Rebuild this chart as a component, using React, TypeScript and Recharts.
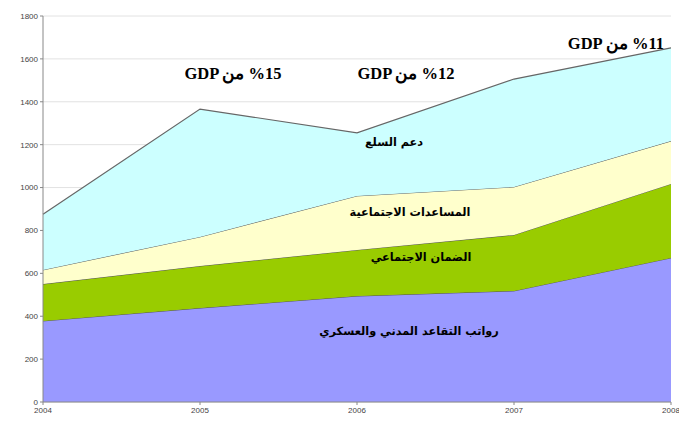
import React from "react";
import { AreaChart, Area, XAxis, YAxis, CartesianGrid, ReferenceDot } from "recharts";

const years = ["2004", "2005", "2006", "2007", "2008"];
const pensions = [378, 438, 494, 518, 672];
const socialSecurity = [172, 196, 215, 261, 345];
const socialAid = [66, 136, 252, 224, 200];
const subsidies = [259, 596, 294, 503, 434];
const yTicks = [0, 200, 400, 600, 800, 1000, 1200, 1400, 1600, 1800];

const seriesNames = {
  pensions: "رواتب التقاعد المدني والعسكري",
  socialSecurity: "الضمان الاجتماعي",
  socialAid: "المساعدات الاجتماعية",
  subsidies: "دعم السلع",
};

const data = years.map((y, i) => ({
  year: y,
  pensions: pensions[i],
  socialSecurity: socialSecurity[i],
  socialAid: socialAid[i],
  subsidies: subsidies[i],
}));

const LRM = "\u200E";
const gdpNotes = [
  { year: "2005", value: 1534, dx: 33, text: "GDP من " + LRM + "%15" },
  { year: "2006", value: 1534, dx: 49, text: "GDP من " + LRM + "%12" },
  { year: "2008", value: 1670, dx: -55, text: "GDP من " + LRM + "%11" },
];

const areaLabels = [
  { year: "2006", value: 1208, dx: 37, text: seriesNames.subsidies },
  { year: "2006", value: 886, dx: 53, text: seriesNames.socialAid },
  { year: "2006", value: 672, dx: 64, text: seriesNames.socialSecurity },
  { year: "2006", value: 331, dx: 52, text: seriesNames.pensions },
];

const makeLabel = (text: string, dx: number, font: string, size: number) => (p: any) => {
  const vb = p.viewBox || {};
  const cx = (vb.x ?? 0) + (vb.width ?? 0) / 2 + dx;
  const cy = (vb.y ?? 0) + (vb.height ?? 0) / 2;
  return (
    <text
      x={cx}
      y={cy}
      textAnchor="middle"
      dominantBaseline="central"
      fontFamily={font}
      fontWeight="bold"
      fontSize={size}
      fill="#000"
    >
      {text}
    </text>
  );
};

export default function App() {
  return (
    <div style={{ position: "absolute", left: 0, top: 0, width: 679, height: 422, background: "#fff" }}>
      <AreaChart
        width={679}
        height={422}
        data={data}
        margin={{ top: 16, right: 8, bottom: 0, left: 0 }}
      >
        <CartesianGrid vertical={false} stroke="#e2e2e2" />
        <XAxis
          dataKey="year"
          height={20}
          tick={{ fontSize: 8, fill: "#444", fontFamily: "Liberation Sans" }}
          tickSize={3}
          stroke="#888"
          interval={0}
        />
        <YAxis
          width={43}
          domain={[0, 1800]}
          ticks={yTicks}
          tick={{ fontSize: 8, fill: "#444", fontFamily: "Liberation Sans" }}
          tickSize={3}
          stroke="#888"
          interval={0}
        />
        <Area type="linear" dataKey="pensions" stackId="1" stroke="#555" strokeWidth={1} fill="#9999FF" fillOpacity={1} isAnimationActive={false} />
        <Area type="linear" dataKey="socialSecurity" stackId="1" stroke="#555" strokeWidth={1} fill="#99CC00" fillOpacity={1} isAnimationActive={false} />
        <Area type="linear" dataKey="socialAid" stackId="1" stroke="#555" strokeWidth={1} fill="#FFFFCC" fillOpacity={1} isAnimationActive={false} />
        <Area type="linear" dataKey="subsidies" stackId="1" stroke="#666" strokeWidth={1.2} fill="#CCFFFF" fillOpacity={1} isAnimationActive={false} />
        {areaLabels.map((a, i) => (
          <ReferenceDot
            key={"a" + i}
            x={a.year}
            y={a.value}
            r={0}
            fill="none"
            stroke="none"
            label={makeLabel(a.text, a.dx, "DejaVu Sans", 11.3)}
          />
        ))}
        {gdpNotes.map((a, i) => (
          <ReferenceDot
            key={"g" + i}
            x={a.year}
            y={a.value}
            r={0}
            fill="none"
            stroke="none"
            label={makeLabel(a.text, a.dx, "Liberation Serif", 16.5)}
          />
        ))}
      </AreaChart>
    </div>
  );
}
